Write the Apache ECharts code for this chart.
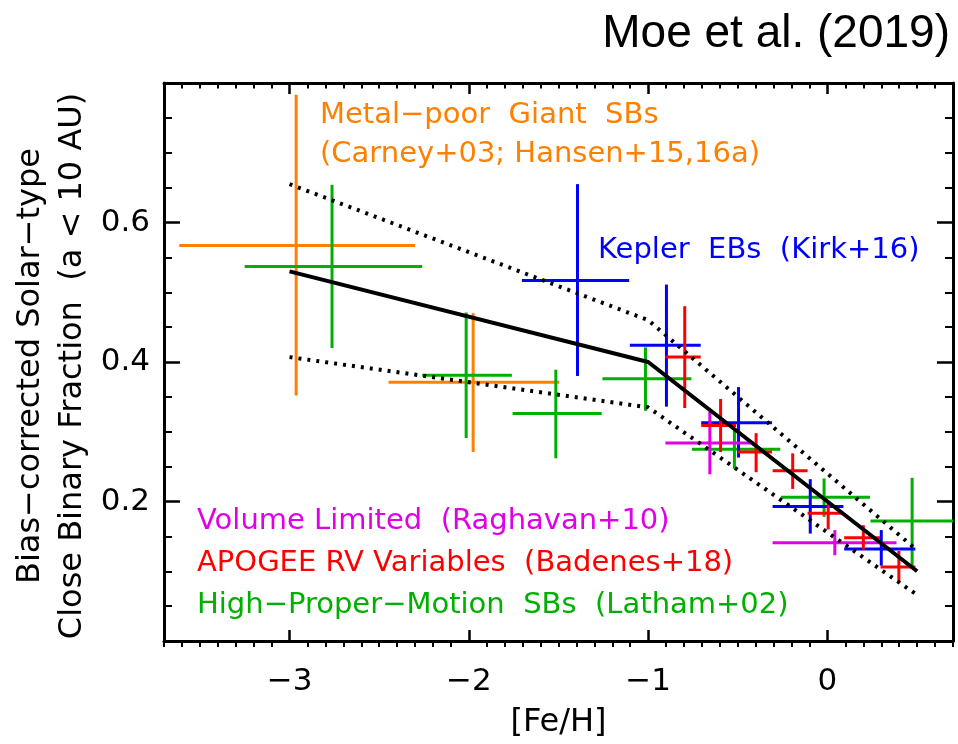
<!DOCTYPE html>
<html>
<head>
<meta charset="utf-8">
<script src="https://cdn.jsdelivr.net/npm/echarts@6/dist/echarts.min.js"></script>
<style>
html,body{margin:0;padding:0;background:#fff;}
#chart{width:958px;height:744px;}
</style>
</head>
<body>
<div id="chart"></div>
<script>
// ---- Data (rows: [FeH, FeH_lo, FeH_hi, frac, frac_lo, frac_hi]) ----
const metalPoorGiants = [
  [-2.963, -3.615, -2.300, 0.567, 0.352, 0.783],
  [-1.976, -2.448, -1.496, 0.371, 0.271, 0.470]
];
const lathamHPM = [
  [-2.763, -3.250, -2.260, 0.537, 0.420, 0.654],
  [-2.015, -2.260, -1.760, 0.381, 0.291, 0.471],
  [-1.515, -1.756, -1.259, 0.326, 0.262, 0.389],
  [-1.015, -1.255, -0.759, 0.376, 0.330, 0.421],
  [-0.519, -0.756, -0.263, 0.275, 0.247, 0.302],
  [-0.019, -0.259, 0.237, 0.206, 0.178, 0.233],
  [0.472, 0.240, 0.750, 0.172, 0.107, 0.234]
];
const keplerEBs = [
  [-1.394, -1.704, -1.106, 0.517, 0.380, 0.655],
  [-0.898, -1.102, -0.707, 0.424, 0.336, 0.511],
  [-0.496, -0.704, -0.309, 0.313, 0.263, 0.364],
  [-0.096, -0.306, 0.089, 0.193, 0.154, 0.232],
  [0.300, 0.093, 0.490, 0.132, 0.108, 0.159]
];
const apogeeRV = [
  [-0.796, -0.904, -0.707, 0.407, 0.334, 0.480],
  [-0.596, -0.704, -0.509, 0.309, 0.271, 0.347],
  [-0.398, -0.500, -0.309, 0.271, 0.242, 0.298],
  [-0.194, -0.306, -0.111, 0.244, 0.218, 0.269],
  [0.004, -0.111, 0.089, 0.183, 0.160, 0.201],
  [0.200, 0.093, 0.293, 0.148, 0.131, 0.166],
  [0.398, 0.296, 0.490, 0.106, 0.083, 0.129]
];
const volumeLimited = [
  [-0.656, -0.904, -0.411, 0.284, 0.239, 0.329],
  [0.041, -0.306, 0.385, 0.141, 0.123, 0.159]
];
// Model relation and its uncertainty envelope
const modelFeH   = [-3.0, -1.0, 0.5];
const modelFrac  = [0.530, 0.400, 0.100];
const upperFrac  = [0.655, 0.460, 0.130];
const lowerFrac  = [0.407, 0.335, 0.066];
// Axis ticks
const xTickLabels = [-3, -2, -1, 0];
const yTickLabels = [0.2, 0.4, 0.6];

// ---- Styling ----
const C_ORANGE = '#FF8000', C_GREEN = '#00B000', C_BLUE = '#0000FF', C_RED = '#FF0000', C_MAG = '#E000E8';
const FONT = '"DejaVu Sans", sans-serif';
const xMinorTicks = [];
for (let i = -37; i <= 7; i++) { if (i % 10 !== 0) xMinorTicks.push(i / 10); }
const fmt = v => (v < 0 ? '\u2212' + Math.abs(v) : String(v));

function errSeries(name, data, color) {
  return {
    type: 'custom', name: name, data: data, clip: true,
    xAxisIndex: 0, yAxisIndex: 0, z: 2,
    encode: { x: [0, 1, 2], y: [3, 4, 5] },
    renderItem: function (params, api) {
      const x = api.value(0), xl = api.value(1), xh = api.value(2);
      const y = api.value(3), yl = api.value(4), yh = api.value(5);
      const a = api.coord([xl, y]), b = api.coord([xh, y]);
      const c = api.coord([x, yl]), d = api.coord([x, yh]);
      const st = { stroke: color, lineWidth: 3, lineCap: 'butt' };
      return { type: 'group', children: [
        { type: 'line', shape: { x1: a[0], y1: a[1], x2: b[0], y2: b[1] }, style: st },
        { type: 'line', shape: { x1: c[0], y1: c[1], x2: d[0], y2: d[1] }, style: st }
      ]};
    }
  };
}
function zip(xs, ys) { return xs.map((x, i) => [x, ys[i]]); }

const gridRect = { left: 164, right: 5, top: 83, bottom: 97 };
const axisLineStyle = { show: true, onZero: false, lineStyle: { color: '#000', width: 3 } };

const option = {
  animation: false,
  backgroundColor: '#fff',
  grid: [Object.assign({}, gridRect), Object.assign({}, gridRect)],
  xAxis: [
    { type: 'value', gridIndex: 0, position: 'bottom', min: -3.7, max: 0.7,
      axisLine: axisLineStyle,
      axisTick: { show: true, inside: true, length: 11, customValues: xTickLabels, lineStyle: { color: '#000', width: 2.5 } },
      axisLabel: { show: true, margin: 25, customValues: xTickLabels, formatter: fmt, color: '#000', fontFamily: FONT, fontSize: 31 },
      splitLine: { show: false },
      name: '[Fe/H]', nameLocation: 'middle', nameGap: 66,
      nameTextStyle: { color: '#000', fontFamily: FONT, fontSize: 32 } },
    { type: 'value', gridIndex: 0, position: 'top', min: -3.7, max: 0.7,
      axisLine: axisLineStyle,
      axisTick: { show: true, inside: true, length: 11, customValues: xTickLabels, lineStyle: { color: '#000', width: 2.5 } },
      axisLabel: { show: false }, splitLine: { show: false } },
    { type: 'value', gridIndex: 1, position: 'bottom', min: -3.7, max: 0.7,
      axisLine: { show: false, onZero: false },
      axisTick: { show: true, inside: true, length: 5.5, customValues: xMinorTicks, lineStyle: { color: '#000', width: 2 } },
      axisLabel: { show: false }, splitLine: { show: false } },
    { type: 'value', gridIndex: 1, position: 'top', min: -3.7, max: 0.7,
      axisLine: { show: false, onZero: false },
      axisTick: { show: true, inside: true, length: 5.5, customValues: xMinorTicks, lineStyle: { color: '#000', width: 2 } },
      axisLabel: { show: false }, splitLine: { show: false } }
  ],
  yAxis: [
    { type: 'value', gridIndex: 0, position: 'left', min: 0, max: 0.8, interval: 0.2,
      axisLine: axisLineStyle,
      axisTick: { show: true, inside: true, length: 16, lineStyle: { color: '#000', width: 2.5 } },
      minorTick: { show: true, splitNumber: 4, length: 8, lineStyle: { color: '#000', width: 2 } },
      axisLabel: { show: true, margin: 14, customValues: yTickLabels, formatter: v => v.toFixed(1), color: '#000', fontFamily: FONT, fontSize: 31, padding: [4, 0, 0, 0] },
      splitLine: { show: false }, minorSplitLine: { show: false } },
    { type: 'value', gridIndex: 0, position: 'right', min: 0, max: 0.8, interval: 0.2,
      axisLine: axisLineStyle,
      axisTick: { show: true, inside: true, length: 16, lineStyle: { color: '#000', width: 2.5 } },
      minorTick: { show: true, splitNumber: 4, length: 8, lineStyle: { color: '#000', width: 2 } },
      axisLabel: { show: false }, splitLine: { show: false }, minorSplitLine: { show: false } },
    { type: 'value', gridIndex: 1, min: 0, max: 0.8, show: false }
  ],
  series: [
    errSeries('Metal-poor Giant SBs', metalPoorGiants, C_ORANGE),
    errSeries('High-Proper-Motion SBs', lathamHPM, C_GREEN),
    errSeries('Kepler EBs', keplerEBs, C_BLUE),
    errSeries('Volume Limited', volumeLimited, C_MAG),
    errSeries('APOGEE RV Variables', apogeeRV, C_RED),
    { type: 'line', name: 'model', data: zip(modelFeH, modelFrac), xAxisIndex: 0, yAxisIndex: 0,
      symbol: 'none', z: 5, lineStyle: { color: '#000', width: 4 } },
    { type: 'line', name: 'upper', data: zip(modelFeH, upperFrac), xAxisIndex: 0, yAxisIndex: 0,
      symbol: 'none', z: 5, lineStyle: { color: '#000', width: 4, type: [3, 6], cap: 'butt' } },
    { type: 'line', name: 'lower', data: zip(modelFeH, lowerFrac), xAxisIndex: 0, yAxisIndex: 0,
      symbol: 'none', z: 5, lineStyle: { color: '#000', width: 4, type: [3, 6], cap: 'butt' } }
  ],
  graphic: [
    { type: 'text', x: 950, y: 34, z: 10, style: { text: 'Moe et al. (2019)', font: '46px "Liberation Sans", Arial, sans-serif', fill: '#000', align: 'right', verticalAlign: 'middle', textAlign: 'right', textVerticalAlign: 'middle' } },
    { type: 'text', x: 30.7, y: 366, rotation: Math.PI / 2, z: 10, style: { text: 'Bias\u2212corrected Solar\u2212type', font: '32px ' + FONT, fill: '#000', align: 'center', verticalAlign: 'middle', textAlign: 'center', textVerticalAlign: 'middle' } },
    { type: 'text', x: 72.3, y: 366, rotation: Math.PI / 2, z: 10, style: { text: 'Close Binary Fraction  (a < 10 AU)', font: '32px ' + FONT, fill: '#000', align: 'center', verticalAlign: 'middle', textAlign: 'center', textVerticalAlign: 'middle' } },
    { type: 'text', x: 320, y: 115, z: 10, style: { text: 'Metal\u2212poor  Giant  SBs', font: '29px ' + FONT, fill: C_ORANGE, align: 'left', verticalAlign: 'middle', textAlign: 'left', textVerticalAlign: 'middle' } },
    { type: 'text', x: 320, y: 154, z: 10, style: { text: '(Carney+03; Hansen+15,16a)', font: '29px ' + FONT, fill: C_ORANGE, align: 'left', verticalAlign: 'middle', textAlign: 'left', textVerticalAlign: 'middle' } },
    { type: 'text', x: 598, y: 250.7, z: 10, style: { text: 'Kepler  EBs  (Kirk+16)', font: '29px ' + FONT, fill: C_BLUE, align: 'left', verticalAlign: 'middle', textAlign: 'left', textVerticalAlign: 'middle' } },
    { type: 'text', x: 197, y: 521.7, z: 10, style: { text: 'Volume Limited  (Raghavan+10)', font: '29px ' + FONT, fill: C_MAG, align: 'left', verticalAlign: 'middle', textAlign: 'left', textVerticalAlign: 'middle' } },
    { type: 'text', x: 197, y: 563.3, z: 10, style: { text: 'APOGEE RV Variables  (Badenes+18)', font: '29px ' + FONT, fill: C_RED, align: 'left', verticalAlign: 'middle', textAlign: 'left', textVerticalAlign: 'middle' } },
    { type: 'text', x: 197, y: 605, z: 10, style: { text: 'High\u2212Proper\u2212Motion  SBs  (Latham+02)', font: '29px ' + FONT, fill: C_GREEN, align: 'left', verticalAlign: 'middle', textAlign: 'left', textVerticalAlign: 'middle' } }
  ]
};
const chart = echarts.init(document.getElementById('chart'), null, { renderer: 'canvas' });
chart.setOption(option);
</script>
</body>
</html>
